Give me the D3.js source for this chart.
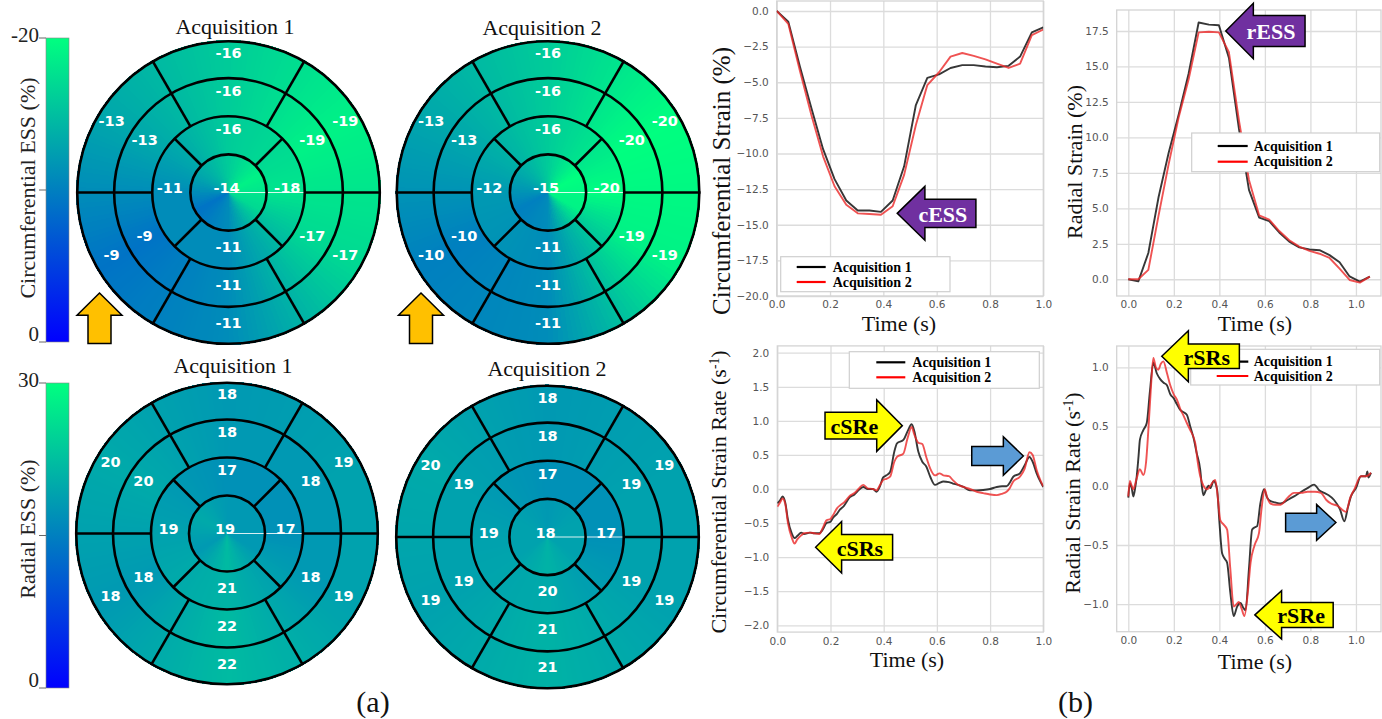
<!DOCTYPE html>
<html><head><meta charset="utf-8">
<script src="https://cdn.jsdelivr.net/npm/d3@7"></script>
<style>html,body{margin:0;padding:0;background:#fff;overflow:hidden}</style>
</head><body>
<svg id="c" width="1382" height="719" xmlns="http://www.w3.org/2000/svg"></svg>
<script>
// ---------------- DATA ----------------
// 6-segment rings ordered clockwise from top: top, upper-right, lower-right, bottom, lower-left, upper-left
// 4-segment apical ring: top, right, bottom, left
const circAcq1Basal  = [-16, -19, -17, -11, -9, -13];
const circAcq1Mid    = [-16, -19, -17, -11, -9, -13];
const circAcq1Apical = [-16, -18, -11, -11];
const circAcq1Apex   = -14;
const circAcq2Basal  = [-16, -20, -19, -11, -10, -13];
const circAcq2Mid    = [-16, -20, -19, -11, -10, -13];
const circAcq2Apical = [-16, -20, -11, -12];
const circAcq2Apex   = -15;
const radAcq1Basal   = [18, 19, 19, 22, 18, 20];
const radAcq1Mid     = [18, 18, 18, 22, 18, 20];
const radAcq1Apical  = [17, 17, 21, 19];
const radAcq1Apex    = 19;
const radAcq2Basal   = [18, 19, 19, 21, 19, 20];
const radAcq2Mid     = [18, 19, 19, 21, 19, 19];
const radAcq2Apical  = [17, 17, 20, 19];
const radAcq2Apex    = 18;

const circBarDomain = [0, -20];
const circBarTicks  = [-20, -10, 0];
const circBarLabels = ["-20", "", "0"];
const radBarDomain  = [0, 30];
const radBarTicks   = [30, 15, 0];
const radBarLabels  = ["30", "", "0"];

// Circumferential strain (%)
const csTime = [0, 0.0435, 0.087, 0.130, 0.174, 0.217, 0.261, 0.304, 0.348, 0.391, 0.435, 0.478, 0.522, 0.565, 0.609, 0.652, 0.696, 0.739, 0.783, 0.826, 0.870, 0.913, 0.957, 1.0];
const csAcq1 = [0, -0.75, -3.9, -6.8, -9.7, -11.8, -13.3, -14.0, -14.0, -14.1, -13.3, -10.9, -6.6, -4.7, -4.45, -4.0, -3.8, -3.8, -3.9, -3.95, -3.85, -3.2, -1.5, -1.15];
const csAcq2 = [0, -0.9, -4.2, -7.3, -10.2, -12.3, -13.6, -14.2, -14.25, -14.3, -13.7, -11.5, -8.0, -5.2, -4.3, -3.2, -2.95, -3.15, -3.4, -3.7, -4.0, -3.7, -1.7, -1.3];

// Radial strain (%)
const rsTime = [0, 0.044, 0.088, 0.133, 0.177, 0.221, 0.265, 0.309, 0.354, 0.398, 0.442, 0.486, 0.530, 0.575, 0.619, 0.663, 0.707, 0.751, 0.796, 0.840, 0.884, 0.928, 0.972, 1.017, 1.061];
const rsAcq1 = [0, -0.15, 1.85, 5.8, 8.9, 11.6, 14.5, 18.1, 17.95, 17.9, 15.6, 10.6, 6.3, 4.35, 4.1, 3.3, 2.65, 2.25, 2.1, 2.05, 1.7, 1.2, 0.2, -0.16, 0.19];
const rsAcq2 = [0, 0, 0.66, 4.5, 8.1, 11.4, 14.1, 17.4, 17.45, 17.4, 16.0, 11.2, 7.0, 4.5, 4.2, 3.4, 2.75, 2.3, 2.0, 1.8, 1.5, 0.75, -0.05, -0.24, 0.19];

// Circumferential strain rate (1/s)
const csrTime = [0, 0.01, 0.02, 0.03, 0.04, 0.055, 0.065, 0.075, 0.09, 0.1, 0.123, 0.14, 0.158, 0.17, 0.185, 0.2, 0.21, 0.225, 0.236, 0.25, 0.273, 0.29, 0.305, 0.323, 0.34, 0.36, 0.373, 0.385, 0.398, 0.41, 0.424, 0.44, 0.45, 0.474, 0.49, 0.505, 0.515, 0.53, 0.545, 0.56, 0.575, 0.593, 0.61, 0.624, 0.645, 0.66, 0.68, 0.7, 0.724, 0.75, 0.774, 0.8, 0.825, 0.845, 0.862, 0.875, 0.887, 0.912, 0.93, 0.948, 0.96, 0.975, 0.99, 1.0];
const csrAcq1 = [-0.21, -0.17, -0.11, -0.2, -0.45, -0.66, -0.72, -0.69, -0.64, -0.66, -0.64, -0.65, -0.65, -0.6, -0.5, -0.48, -0.42, -0.36, -0.3, -0.25, -0.12, -0.08, -0.02, 0.03, 0.0, 0.0, -0.04, 0.03, 0.17, 0.2, 0.25, 0.55, 0.67, 0.72, 0.85, 0.95, 0.85, 0.55, 0.4, 0.33, 0.18, 0.06, 0.09, 0.11, 0.1, 0.08, 0.06, 0.03, -0.02, -0.02, -0.015, 0.0, 0.03, 0.04, 0.04, 0.1, 0.18, 0.23, 0.35, 0.47, 0.4, 0.23, 0.1, 0.03];
const csrAcq2 = [-0.26, -0.2, -0.14, -0.22, -0.5, -0.72, -0.8, -0.74, -0.68, -0.65, -0.64, -0.65, -0.66, -0.58, -0.46, -0.44, -0.38, -0.28, -0.24, -0.2, -0.1, -0.06, 0.0, 0.06, 0.01, 0.0, -0.02, 0.05, 0.13, 0.15, 0.18, 0.4, 0.47, 0.52, 0.75, 0.91, 0.8, 0.68, 0.66, 0.47, 0.3, 0.2, 0.23, 0.2, 0.19, 0.13, 0.06, 0.03, 0.0, -0.04, -0.06, -0.08, -0.09, -0.07, -0.04, 0.02, 0.11, 0.18, 0.3, 0.54, 0.5, 0.28, 0.12, 0.04];

// Radial strain rate (1/s)
const rsrTime1 = [0, 0.007, 0.015, 0.022, 0.03, 0.037, 0.045, 0.051, 0.066, 0.081, 0.095, 0.11, 0.125, 0.14, 0.155, 0.169, 0.185, 0.199, 0.213, 0.228, 0.243, 0.257, 0.272, 0.287, 0.3, 0.316, 0.323, 0.33, 0.34, 0.353, 0.36, 0.375, 0.39, 0.4, 0.412, 0.425, 0.434, 0.448, 0.463, 0.478, 0.493, 0.505, 0.515, 0.53, 0.544, 0.556, 0.566, 0.58, 0.596, 0.61, 0.625, 0.645, 0.669, 0.7, 0.728, 0.76, 0.787, 0.816, 0.84, 0.86, 0.88, 0.904, 0.93, 0.949, 0.965, 0.978, 1.0, 1.022, 1.044, 1.05, 1.055, 1.066];
const rsrAcq1 = [-0.1, 0.02, -0.02, -0.09, -0.02, 0.08, 0.25, 0.39, 0.47, 0.53, 0.8, 1.04, 0.95, 0.9, 0.87, 0.85, 0.77, 0.74, 0.69, 0.64, 0.62, 0.6, 0.5, 0.4, 0.28, 0.135, 0.0, -0.08, -0.04, 0.0, -0.02, 0.04, -0.03, -0.3, -0.57, -0.62, -0.65, -0.9, -1.1, -1.02, -0.99, -1.03, -1.05, -0.7, -0.37, -0.35, -0.34, -0.15, -0.03, -0.1, -0.13, -0.14, -0.15, -0.12, -0.09, -0.05, -0.02, 0.01, -0.04, -0.06, -0.08, -0.12, -0.2, -0.3, -0.18, -0.09, -0.02, 0.08, 0.08, 0.12, 0.07, 0.11];
const rsrTime2 = [0, 0.007, 0.015, 0.022, 0.035, 0.051, 0.066, 0.078, 0.088, 0.1, 0.11, 0.121, 0.132, 0.143, 0.154, 0.17, 0.184, 0.2, 0.213, 0.228, 0.243, 0.257, 0.272, 0.294, 0.305, 0.316, 0.33, 0.346, 0.36, 0.382, 0.393, 0.404, 0.42, 0.434, 0.448, 0.463, 0.475, 0.485, 0.498, 0.51, 0.525, 0.537, 0.555, 0.574, 0.585, 0.599, 0.61, 0.625, 0.645, 0.669, 0.7, 0.728, 0.76, 0.787, 0.82, 0.846, 0.87, 0.89, 0.92, 0.945, 0.956, 0.975, 0.993, 1.022, 1.044, 1.066];
const rsrAcq2 = [-0.09, 0.04, 0.0, -0.03, 0.05, 0.14, 0.09, 0.2, 0.47, 0.85, 1.08, 1.0, 0.98, 1.03, 1.05, 0.95, 0.85, 0.77, 0.73, 0.65, 0.59, 0.53, 0.47, 0.36, 0.2, 0.08, 0.0, -0.03, 0.0, 0.05, -0.1, -0.29, -0.33, -0.37, -0.7, -1.02, -1.0, -0.98, -1.04, -1.1, -0.9, -0.65, -0.5, -0.4, -0.2, -0.03, -0.1, -0.15, -0.16, -0.16, -0.1, -0.06, -0.06, -0.05, -0.05, -0.06, -0.12, -0.15, -0.17, -0.21, -0.22, -0.1, -0.03, 0.08, 0.08, 0.11];

const xTicks01 = [0, 0.2, 0.4, 0.6, 0.8, 1.0];
const csYTicks = [-20, -17.5, -15, -12.5, -10, -7.5, -5, -2.5, 0];
const rsYTicks = [0, 2.5, 5, 7.5, 10, 12.5, 15, 17.5];
const csrYTicks = [-2, -1.5, -1, -0.5, 0, 0.5, 1, 1.5, 2];
const rsrYTicks = [-1, -0.5, 0, 0.5, 1];
const seriesNames = ["Acquisition 1", "Acquisition 2"];

// ---------------- DRAW ----------------
const svg = d3.select('#c');
svg.append('rect').attr('width',1382).attr('height',719).attr('fill','#fff');
const SERIF = '"Liberation Serif","Times New Roman",serif';
const SANS = '"DejaVu Sans",sans-serif';

function winter(t){ t = Math.max(0, Math.min(1, t)); return `rgb(0,${Math.round(255*t)},${Math.round(255*(1-t/2))})`; }

function interpRing(vals, n, angDeg){
  const w = 360 / n; const p = ((angDeg % 360) + 360) % 360 / w;
  const k = Math.floor(p), f = p - k;
  return vals[k % n] * (1 - f) + vals[(k + 1) % n] * f;
}

function bullseye(cx, cy, R, basal, mid, apical, apex, norm, title, titleX, titleY){
  const G = svg.append('g').attr('transform', `translate(${cx},${cy})`);
  const rings = [
    {r0: 0.75*R - 1, r1: R, vals: basal, n: 6, step: 2},
    {r0: 0.5*R - 1, r1: 0.75*R + 1, vals: mid, n: 6, step: 2},
    {r0: 0.25*R - 1, r1: 0.5*R + 1, vals: apical, n: 4, step: 3},
    {r0: 0, r1: 0.25*R + 1, vals: mid, n: 6, step: 4}
  ];
  const arc = d3.arc();
  rings.forEach(ring => {
    const step = ring.step;
    for (let a = 0; a < 360; a += step){
      const v = interpRing(ring.vals, ring.n, a + step/2);
      const c = winter(norm(v));
      G.append('path').attr('d', arc({innerRadius: ring.r0, outerRadius: ring.r1, startAngle: a*Math.PI/180, endAngle: (a+step+1)*Math.PI/180}))
        .attr('fill', c).attr('shape-rendering','crispEdges');
    }
  });
  // seam
  G.append('line').attr('x1',0).attr('y1',0).attr('x2',0.5*R).attr('y2',0).attr('stroke','#fff').attr('stroke-width',1.2).attr('opacity',0.85);
  // boundaries
  const rad = d => d*Math.PI/180;
  [30,90,150,210,270,330].forEach(a => {
    G.append('line').attr('x1', 0.5*R*Math.sin(rad(a))).attr('y1', -0.5*R*Math.cos(rad(a)))
      .attr('x2', R*Math.sin(rad(a))).attr('y2', -R*Math.cos(rad(a))).attr('stroke','#000').attr('stroke-width',2.6);
  });
  [45,135,225,315].forEach(a => {
    G.append('line').attr('x1', 0.25*R*Math.sin(rad(a))).attr('y1', -0.25*R*Math.cos(rad(a)))
      .attr('x2', 0.5*R*Math.sin(rad(a))).attr('y2', -0.5*R*Math.cos(rad(a))).attr('stroke','#000').attr('stroke-width',2.6);
  });
  [0.25,0.5,0.75,1].forEach(f => G.append('circle').attr('r', f*R - (f===1?1.2:0)).attr('fill','none').attr('stroke','#000').attr('stroke-width',2.6));
  // labels
  const lab = (x, y, v) => G.append('text').attr('x', x).attr('y', y).attr('text-anchor','middle').attr('dominant-baseline','central')
      .attr('font-family', SANS).attr('font-weight','bold').attr('font-size', 14.5).attr('fill','#fff').text(String(v));
  const lr = [0.885*R, 0.635*R];
  [basal, mid].forEach((vals, i) => vals.forEach((v, k) => {
    const a = rad(k*60); lab(lr[i]*Math.sin(a), -lr[i]*Math.cos(a) - 4.5, v);
  }));
  apical.forEach((v, k) => { const a = rad(k*90); lab(0.385*R*Math.sin(a), -0.385*R*Math.cos(a) - 4.5, v); });
  lab(-2, -4.5, apex);
  svg.append('text').attr('x', titleX).attr('y', titleY).attr('text-anchor','middle').attr('font-family', SERIF).attr('font-size', 22).attr('fill','#111').text(title);
}

const circNorm = v => v / -20;
const radNorm = v => v / 30;
bullseye(228.5, 192.5, 152.5, circAcq1Basal, circAcq1Mid, circAcq1Apical, circAcq1Apex, circNorm, "Acquisition 1", 235, 34);
bullseye(548, 192.5, 152.5, circAcq2Basal, circAcq2Mid, circAcq2Apical, circAcq2Apex, circNorm, "Acquisition 2", 542, 35);
bullseye(227, 533.5, 152, radAcq1Basal, radAcq1Mid, radAcq1Apical, radAcq1Apex, radNorm, "Acquisition 1", 233, 373);
bullseye(547.5, 537, 152.5, radAcq2Basal, radAcq2Mid, radAcq2Apical, radAcq2Apex, radNorm, "Acquisition 2", 547, 376);

// colorbars
const defs = svg.append('defs');
const grad = defs.append('linearGradient').attr('id','winterV').attr('x1',0).attr('y1',1).attr('x2',0).attr('y2',0);
grad.append('stop').attr('offset','0%').attr('stop-color', winter(0));
grad.append('stop').attr('offset','100%').attr('stop-color', winter(1));

function colorbar(y0, y1, domain, ticks, labels, title, titleY){
  const s = d3.scaleLinear().domain(domain).range([y1, y0]);
  svg.append('rect').attr('x',46).attr('y',y0).attr('width',23).attr('height',y1-y0).attr('fill','url(#winterV)').attr('stroke','#888').attr('stroke-width',0.6);
  ticks.forEach((t, i) => {
    svg.append('line').attr('x1',39).attr('x2',46).attr('y1',s(t)).attr('y2',s(t)).attr('stroke','#666').attr('stroke-width',1);
    if (labels[i]) svg.append('text').attr('x',39).attr('y', s(t) + (i===0 ? 3.5 : -1.5)).attr('text-anchor','end')
      .attr('font-family', SERIF).attr('font-size', 21).attr('fill','#222').text(labels[i]);
  });
  svg.append('text').attr('transform', `translate(35,${titleY}) rotate(-90)`).attr('text-anchor','middle')
    .attr('font-family', SERIF).attr('font-size', 22).attr('fill','#222').text(title);
}
colorbar(38, 342, circBarDomain, circBarTicks, circBarLabels, "Circumferential ESS (%)", 188);
colorbar(383, 688, radBarDomain, radBarTicks, radBarLabels, "Radial ESS (%)", 529);

// arrows: local shape with tip at origin, body along +x
function arrowPath(total, headLen, headHalf, shaftHalf){
  return `M0,0 L${headLen},${-headHalf} L${headLen},${-shaftHalf} L${total},${-shaftHalf} L${total},${shaftHalf} L${headLen},${shaftHalf} L${headLen},${headHalf} Z`;
}
function arrow(tx, ty, rot, total, headLen, headHalf, shaftHalf, fill, label, labelFill, frac){
  svg.append('path').attr('d', arrowPath(total, headLen, headHalf, shaftHalf)).attr('transform', `translate(${tx},${ty}) rotate(${rot})`)
    .attr('fill', fill).attr('stroke','#000').attr('stroke-width',1.5).attr('stroke-linejoin','miter');
  if (label){
    const a = rot*Math.PI/180, d = total*frac;
    svg.append('text').attr('x', tx + d*Math.cos(a)).attr('y', ty + d*Math.sin(a) + 1).attr('text-anchor','middle').attr('dominant-baseline','central')
      .attr('font-family', SERIF).attr('font-weight','bold').attr('font-size', 22).attr('fill', labelFill).text(label);
  }
}
// orange up arrows next to bull's eyes
arrow(228.5 - 129, 192.5 + 100.5, 90, 50.5, 22.3, 22.5, 11.5, '#FFC000');
arrow(548 - 127, 192.5 + 100.5, 90, 50.5, 22.3, 22.5, 11.5, '#FFC000');

// ---------------- line charts ----------------
function chart(o){
  const x = d3.scaleLinear().domain(o.xd).range(o.xr);
  const y = d3.scaleLinear().domain(o.yd).range(o.yr);
  const g = svg.append('g');
  const h = o.yr[0] - o.yr[1], w = o.xr[1] - o.xr[0];
  const fmt = d3.format('.1f');
  const gx = g.append('g').attr('transform', `translate(0,${o.yr[0]})`)
    .call(d3.axisBottom(x).tickValues(o.xt).tickFormat(fmt).tickSize(-h).tickPadding(5));
  const gy = g.append('g').attr('transform', `translate(${o.xr[0]},0)`)
    .call(d3.axisLeft(y).tickValues(o.yt).tickFormat(fmt).tickSize(-w).tickPadding(8));
  [gx, gy].forEach(a => {
    a.select('.domain').remove();
    a.attr('font-family', SANS).attr('font-size', 10.5);
    a.selectAll('.tick line').attr('stroke','#dcdcdc').attr('stroke-width',1.3);
    a.selectAll('.tick text').attr('fill','#555');
  });
  g.append('rect').attr('x', o.xr[0]).attr('y', o.yr[1]).attr('width', w).attr('height', h)
    .attr('fill','none').attr('stroke','#d4d4d4').attr('stroke-width',1.3);
  const cp = 'clip' + Math.round(o.xr[0]) + Math.round(o.yr[1]);
  defs.append('clipPath').attr('id', cp).append('rect').attr('x', o.xr[0]).attr('y', o.yr[1]).attr('width', w).attr('height', h);
  const line = d3.line().x(d => x(d[0])).y(d => y(d[1])).curve(o.curve);
  const lg = g.append('g').attr('clip-path', `url(#${cp})`);
  lg.append('path').datum(d3.zip(o.t1, o.v1)).attr('d', line).attr('fill','none').attr('stroke','rgba(20,20,20,0.85)').attr('stroke-width',1.9).attr('stroke-linejoin','round');
  lg.append('path').datum(d3.zip(o.t2, o.v2)).attr('d', line).attr('fill','none').attr('stroke','rgba(235,40,40,0.8)').attr('stroke-width',1.9).attr('stroke-linejoin','round');
  // legend
  const L = o.leg;
  g.append('rect').attr('x', L.x).attr('y', L.y).attr('width', L.w).attr('height', L.h).attr('fill','#fff').attr('stroke','#cfcfcf').attr('stroke-width',1.2);
  ['#000','#ff0000'].forEach((c, i) => {
    const yy = L.y + L.r[i];
    g.append('line').attr('x1', L.x + L.l0).attr('x2', L.x + L.l1).attr('y1', yy).attr('y2', yy).attr('stroke', c).attr('stroke-width', 2.2);
    g.append('text').attr('x', L.x + L.tx).attr('y', yy).attr('dominant-baseline','central').attr('font-family', SERIF).attr('font-weight','bold')
      .attr('font-size', 14).attr('fill','#000').text(seriesNames[i]);
  });
  // axis labels
  const yl = g.append('text').attr('transform', `translate(${o.ylx},${o.yly}) rotate(-90)`).attr('text-anchor','middle')
    .attr('font-family', SERIF).attr('font-size', o.ylfs).attr('fill','#111');
  yl.append('tspan').text(o.ylabel);
  if (o.ysup){ yl.append('tspan').attr('baseline-shift','super').attr('font-size', o.ylfs*0.62).text(o.ysup); yl.append('tspan').text(')'); }
  g.append('text').attr('x', o.xlx).attr('y', o.xly).attr('text-anchor','middle').attr('font-family', SERIF).attr('font-size', 22).attr('fill','#111').text('Time (s)');
  return {x, y};
}

const c1 = chart({xd:[0,1], xr:[776.7,1043.3], yd:[-20,0.7], yr:[296,1.0], xt:xTicks01, yt:csYTicks,
  t1:csTime, v1:csAcq1, t2:csTime, v2:csAcq2, curve:d3.curveLinear,
  leg:{x:780.7, y:256.7, w:169.3, h:35, r:[10.3,25.3], l0:16, l1:45, tx:52},
  ylabel:'Circumferential Strain (%)', ylfs:25, ylx:730, yly:181, xlx:899, xly:331});
const c2 = chart({xd:[-0.051,1.11], xr:[1116.7,1381], yd:[-1.18,18.98], yr:[296,10], xt:xTicks01, yt:rsYTicks,
  t1:rsTime, v1:rsAcq1, t2:rsTime, v2:rsAcq2, curve:d3.curveLinear,
  leg:{x:1191.7, y:133, w:188, h:38.7, r:[13,28.7], l0:26, l1:56, tx:62},
  ylabel:'Radial Strain (%)', ylfs:22, ylx:1082, yly:162, xlx:1255, xly:331});
const c3 = chart({xd:[0,1], xr:[777.3,1043.3], yd:[-2.1,2.1], yr:[632.1,345.9], xt:xTicks01, yt:csrYTicks,
  t1:csrTime, v1:csrAcq1, t2:csrTime, v2:csrAcq2, curve:d3.curveMonotoneX,
  leg:{x:849.3, y:351.7, w:190, h:36.6, r:[10.6,25.6], l0:27, l1:56, tx:63},
  ylabel:'Circumferential Strain Rate (s', ysup:'-1', ylfs:22, ylx:726, yly:492, xlx:907, xly:667});
const c4 = chart({xd:[-0.051,1.11], xr:[1116.7,1381], yd:[-1.232,1.18], yr:[631.7,346], xt:xTicks01, yt:rsrYTicks,
  t1:rsrTime1, v1:rsrAcq1, t2:rsrTime2, v2:rsrAcq2, curve:d3.curveMonotoneX,
  leg:{x:1190.7, y:349.3, w:189, h:35.7, r:[12.4,26.7], l0:26, l1:57.6, tx:63},
  ylabel:'Radial Strain Rate (s', ysup:'-1', ylfs:22, ylx:1080, yly:493, xlx:1255, xly:669});

// annotation arrows placed at data coordinates
arrow(c1.x(0.452), c1.y(-14.2), 0, 78.7, 27.7, 27, 14.2, '#7030A0', 'cESS', '#fff', 0.58);
arrow(c2.x(0.428), c2.y(17.5), 0, 79.3, 27.6, 27.7, 15.5, '#7030A0', 'rESS', '#fff', 0.57);
arrow(c3.x(0.47), c3.y(0.93), 180, 77.3, 25.6, 25.7, 13.3, '#FFFF00', 'cSRe', '#000', 0.62);
arrow(c3.x(0.144), c3.y(-0.855), 0, 77, 26, 25.8, 12.8, '#FFFF00', 'cSRs', '#000', 0.575);
arrow(c3.x(0.925), c3.y(0.484), 180, 51.6, 20, 19.2, 9.5, '#5B9BD5');
arrow(c4.x(0.147), c4.y(1.093), 0, 77.6, 26.6, 25.5, 12.2, '#FFFF00', 'rSRs', '#000', 0.58);
arrow(c4.x(0.556), c4.y(-1.09), 0, 78.3, 26.7, 24.2, 12.5, '#FFFF00', 'rSRe', '#000', 0.59);
arrow(c4.x(0.912), c4.y(-0.31), 180, 50.3, 19.3, 17.9, 9.2, '#5B9BD5');

// panel labels
svg.append('text').attr('x', 373).attr('y', 712).attr('text-anchor','middle').attr('font-family', SERIF).attr('font-size', 30).attr('fill','#111').text('(a)');
svg.append('text').attr('x', 1075.5).attr('y', 712).attr('text-anchor','middle').attr('font-family', SERIF).attr('font-size', 30).attr('fill','#111').text('(b)');
</script>
</body></html>
